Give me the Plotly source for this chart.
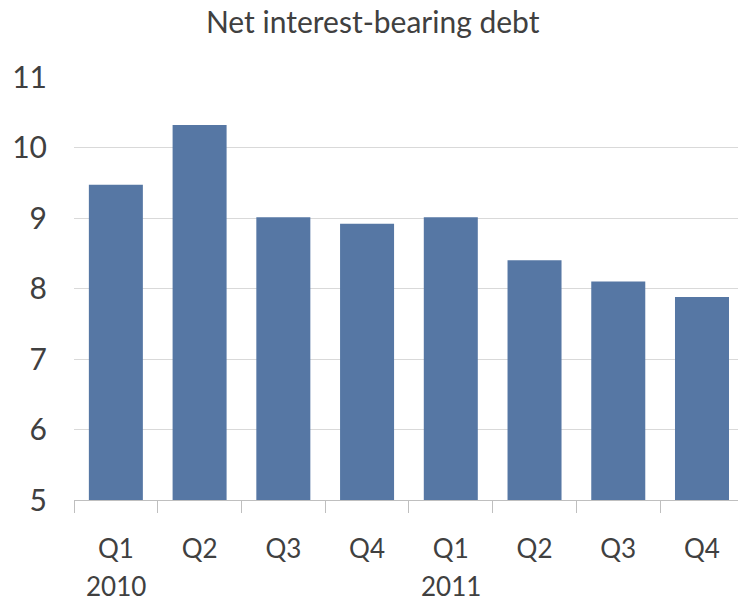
import plotly.graph_objects as go

quarters = ["Q1", "Q2", "Q3", "Q4", "Q1", "Q2", "Q3", "Q4"]
years = ["2010", "", "", "", "2011", "", "", ""]
values = [9.47, 10.32, 9.01, 8.92, 9.01, 8.40, 8.10, 7.88]
cats = [f"c{i}" for i in range(len(values))]

FONT = "Lato, 'Open Sans', sans-serif"
TXT = "#404040"

fig = go.Figure()
fig.add_trace(go.Bar(x=cats, y=values, marker=dict(color="#5677A4", line=dict(width=0)),
                     width=0.645, showlegend=False))

for c, yr in zip(cats, years):
    if yr:
        fig.add_annotation(x=c, y=-0.2435, xref="x", yref="paper", text=yr, showarrow=False,
                           font=dict(family=FONT, size=26, color=TXT), yanchor="bottom",
                           borderpad=0)

fig.update_layout(
    width=738, height=603,
    margin=dict(l=74, r=0, t=77, b=103),
    paper_bgcolor="white", plot_bgcolor="white",
    title=dict(text="Net interest-bearing debt", x=0.505, xanchor="center", y=0.963, yanchor="middle",
               font=dict(family=FONT, size=30, color=TXT)),
    bargap=0.35,
    xaxis=dict(type="category", tickmode="array", tickvals=cats, ticktext=quarters, range=[-0.5, 7.43],
               showgrid=False, showline=True, linecolor="#BFBFBF", linewidth=1,
               ticks="outside", ticklen=12, tickcolor="#BFBFBF", tickson="boundaries",
               ticklabelstandoff=26,
               tickfont=dict(family=FONT, size=26, color=TXT), zeroline=False),
    yaxis=dict(range=[5, 11], dtick=1, showgrid=True, gridcolor="#D9D9D9", gridwidth=1,
               showline=False, zeroline=False, ticks="", ticklabelstandoff=26,
               tickfont=dict(family=FONT, size=30, color=TXT)),
)

fig.write_html("out.html")
